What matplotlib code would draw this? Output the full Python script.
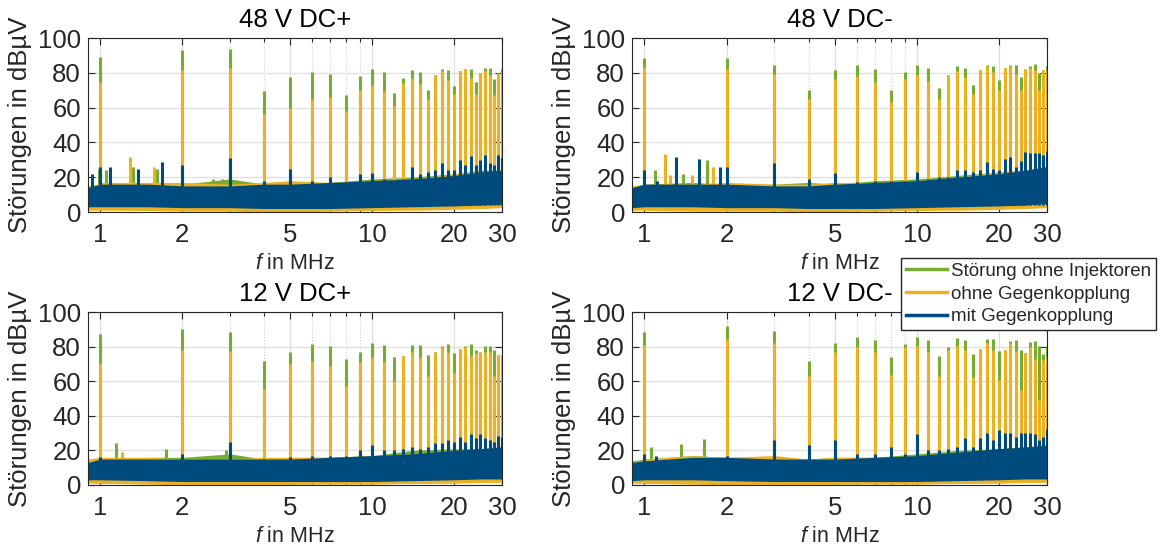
import matplotlib
matplotlib.use("Agg")
import matplotlib.pyplot as plt
from matplotlib.lines import Line2D
from matplotlib.ticker import FixedLocator, NullFormatter

plt.rcParams['font.family'] = ['Liberation Sans', 'DejaVu Sans']
plt.rcParams['mathtext.fontset'] = 'custom'
plt.rcParams['mathtext.it'] = 'Liberation Sans:italic'
plt.rcParams['mathtext.rm'] = 'Liberation Sans'
plt.rcParams['text.color'] = '#262626'

# Oberschwingungen der Schaltfrequenz (MHz)
harmonische = [1, 2, 3, 4, 5, 6, 7, 8, 9, 10, 11, 12, 13, 14, 15,
               16, 17, 18, 19, 20, 21, 22, 23, 24, 25, 26, 27, 28, 29, 30]

titel = ["48 V DC+", "48 V DC-", "12 V DC+", "12 V DC-"]
legende = ["Störung ohne Injektoren", "ohne Gegenkopplung", "mit Gegenkopplung"]
farben = ["#77AC30", "#EDB120", "#004B7D"]

# Spitzenwerte in dBµV an den Oberschwingungen
p48p_gruen = [89, 93, 93.7, 69.4, 77.8, 80.7, 79.5, 67.5, 78.4, 82, 80.5, 68.4, 77.2, 81.8, 80.5,
              70, 78.6, 82, 81.5, 72.7, 81, 82.4, 82.4, 74.8, 80, 82.8, 83, 76.7, 80, 82.4]
p48p_gelb = [74.8, 81.5, 82.8, 56.4, 59.8, 65, 66, 58, 70.4, 72.8, 69.6, 60.8, 74.2, 77, 73.8,
             65, 78.6, 81, 75.7, 67.7, 81, 82, 77.2, 67.7, 80, 81, 78.6, 67, 80, 80.5]
p48p_blau = [25.6, 26.8, 31, 18, 25, 18, 20, 17, 21.6, 22.4, 19, 18, 19, 25.6, 22,
             23, 24, 28, 24, 24, 29.8, 27, 32, 27, 29.8, 32.7, 28, 27, 33, 30.8]

p48m_gruen = [88.7, 88.7, 84.7, 70.4, 81.5, 84.7, 82.4, 70, 80.3, 84.3, 82.6, 71, 78.6, 83.7, 82.6,
              73.2, 81.8, 84.3, 83.7, 75.7, 83, 84.3, 84.3, 77.6, 82, 83.7, 85.3, 80, 81.5, 83.7]
p48m_gelb = [83.4, 82.4, 79.5, 65.2, 76.7, 78.2, 74.8, 63.3, 76.7, 78.6, 75.1, 64.8, 78.6, 81, 77.6,
             68, 81.8, 84, 80.5, 70, 83, 84, 79.5, 70, 82, 82.8, 81.8, 70, 81.5, 81.5]
p48m_blau = [24, 26, 28.3, 19, 22.2, 17, 18, 18, 18, 22.8, 19, 20, 20, 24, 24,
             23, 24, 28.5, 25, 24, 30.2, 31.7, 26, 29.4, 34.2, 33.7, 33.7, 34, 33, 35.2]

p12p_gruen = [87.5, 90.4, 88.5, 71.8, 77, 81.4, 80.6, 72.6, 76.8, 81.8, 81.2, 73.7, 74.5, 81.2, 81.2,
              74.9, 77, 80.6, 81.4, 76.4, 78.9, 80.2, 81.4, 78, 77, 80.6, 80.6, 78, 75, 75.4]
p12p_gelb = [70.6, 78.3, 77.5, 55.3, 69.7, 71.6, 68.7, 57.2, 71, 73.7, 71.2, 60, 74.5, 77, 73.7,
             63, 77, 79.5, 77, 65, 78.9, 79.5, 74.5, 76.4, 77, 77, 77, 63, 75, 75.4]
p12p_blau = [16, 18, 24.8, 15, 16, 17, 17, 17, 20, 23, 20, 20, 21, 22, 21,
             22, 24, 24, 26, 25, 28, 25, 29.4, 27, 29.4, 27, 26, 25, 28.6, 28]

p12m_gruen = [88.3, 91.7, 89.3, 71.8, 81.8, 85.6, 84.1, 73.7, 81.4, 85.6, 84.1, 74.5, 79.8, 85, 84.1,
              75.6, 78.9, 84.3, 84.3, 77.4, 77.9, 83.3, 84.1, 77.9, 76.4, 82.5, 83.3, 80.6, 76, 80.2]
p12m_gelb = [80.8, 84.3, 81.8, 63, 76.6, 79.5, 76.6, 63.5, 79.5, 80.2, 77, 63, 78.3, 80.2, 77.9,
             62.6, 78.9, 82.1, 77.9, 60.7, 77.9, 81.8, 77.4, 54.9, 76.4, 79.5, 73.1, 49.1, 72.2, 73.7]
p12m_blau = [18, 17, 26.3, 23.2, 26.1, 18, 18, 21.9, 18, 29.4, 20, 20, 21, 22, 26.9,
             22, 27.1, 29.9, 26, 31.9, 30, 30, 28, 30, 30, 30, 29.4, 26, 28, 32.4]

# einzelne Nebenspitzen (Frequenz in MHz, Pegel in dBµV)
s48p_gruen_f, s48p_gruen = [0.985, 1.05, 1.32, 1.62, 2.6, 2.8], [25, 24, 26, 25, 19, 19]
s48p_gelb_f, s48p_gelb = [1.285, 1.58], [31.7, 26]
s48p_blau_f, s48p_blau = [0.93, 1.085, 1.38, 1.69], [22, 26, 24.5, 28.9]

s48m_gruen_f, s48m_gruen = [1.09, 1.39, 1.69], [24, 22, 29.8]
s48m_gelb_f, s48m_gelb = [1.19, 1.24, 1.49, 1.78], [33.6, 21, 21, 25.7]
s48m_blau_f, s48m_blau = [0.93, 1.11, 1.30, 1.59, 1.89], [14, 18, 31.4, 30.4, 26]

s12p_gruen_f, s12p_gruen = [1.14, 1.74, 2.89], [24, 20.7, 20]
s12p_gelb_f, s12p_gelb = [1.2], [19]
s12p_blau_f, s12p_blau = [], []

s12m_gruen_f, s12m_gruen = [1.06, 1.36, 1.66], [21.9, 23.6, 26.5]
s12m_gelb_f, s12m_gelb = [], []
s12m_blau_f, s12m_blau = [1.1], [17]

# Rauschband (untere / obere Hüllkurve) an Stützfrequenzen
f_rausch = [0.9, 1, 1.5, 2, 3, 4, 5, 7, 10, 14, 20, 25, 30]

r48p_gruen_o = [15, 16, 17, 16, 19, 16, 16, 17, 19, 20, 22, 24, 24]
r48p_gruen_u = [1.5, 1.5, 1, 1, 1, 0.5, 0.5, 1, 1, 1.5, 2, 2, 3]
r48p_gelb_o = [14, 17, 17, 17, 16, 17, 18, 17, 18, 19, 22, 23, 24]
r48p_gelb_u = [1, 1, 1, 0.5, 0.5, 0, 0, 0.5, 1, 1, 1.5, 2, 2.5]
r48p_blau_o = [14, 16, 16, 15, 15, 16, 16, 17, 18, 19, 21, 23, 24]
r48p_blau_u = [3, 3, 3, 2.5, 2.5, 2, 2, 2, 2.5, 3, 3.5, 4, 4.5]

r48m_gruen_o = [14, 16, 17, 16, 16, 17, 16, 18, 19, 21, 23, 24, 26]
r48m_gruen_u = [1.5, 1.5, 1, 1, 1, 0.5, 0.5, 1, 1, 1.5, 2, 2.5, 3]
r48m_gelb_o = [15, 16, 16, 17, 16, 16, 17, 17, 18, 20, 23, 24, 25]
r48m_gelb_u = [1, 1, 0.5, 0.5, 0.5, 0, 0.5, 0.5, 1, 1, 1.5, 2, 2.5]
r48m_blau_o = [14, 16, 16, 16, 15, 15, 16, 17, 18, 20, 22, 24, 26]
r48m_blau_u = [2.5, 3, 3, 2.5, 2.5, 2, 2, 2, 2.5, 3, 3.5, 4, 5]

r12p_gruen_o = [14, 15, 16, 16, 18, 15, 16, 16, 17, 20, 21, 21, 22]
r12p_gruen_u = [1.5, 1, 1, 0.5, 0.5, 0.5, 0.5, 1, 1, 1, 1.5, 2, 2]
r12p_gelb_o = [15, 16, 16, 15, 15, 16, 16, 16, 17, 18, 20, 21, 22]
r12p_gelb_u = [1, 1, 0.5, 0, 0, 0, 0.5, 0.5, 0.5, 1, 1, 1.5, 1.5]
r12p_blau_o = [13, 15, 15, 15, 15, 15, 15, 16, 17, 18, 20, 21, 22]
r12p_blau_u = [3, 3, 2.5, 2, 2, 2, 2, 2, 2, 2.5, 3, 3.5, 3.5]

r12m_gruen_o = [14, 15, 17, 16, 16, 15, 16, 16, 18, 20, 21, 22, 23]
r12m_gruen_u = [1.5, 1, 1, 0.5, 0.5, 0.5, 0.5, 1, 1, 1, 1.5, 2, 2]
r12m_gelb_o = [13, 15, 17, 16, 17, 15, 16, 16, 17, 19, 21, 22, 23]
r12m_gelb_u = [1, 1, 0.5, 0, 0, 0, 0.5, 0.5, 0.5, 1, 1, 1.5, 1.5]
r12m_blau_o = [13, 14, 16, 16, 15, 15, 15, 16, 17, 19, 21, 22, 23]
r12m_blau_u = [2.5, 3, 3, 2.5, 2, 2, 2, 2, 2, 2.5, 3, 3.5, 3.5]

# Zusammenstellung je Teilbild: (Spitzen, Nebenspitzen f, Nebenspitzen, Rauschen oben, Rauschen unten)
panels = [
    [(p48p_gruen, s48p_gruen_f, s48p_gruen, r48p_gruen_o, r48p_gruen_u),
     (p48p_gelb, s48p_gelb_f, s48p_gelb, r48p_gelb_o, r48p_gelb_u),
     (p48p_blau, s48p_blau_f, s48p_blau, r48p_blau_o, r48p_blau_u)],
    [(p48m_gruen, s48m_gruen_f, s48m_gruen, r48m_gruen_o, r48m_gruen_u),
     (p48m_gelb, s48m_gelb_f, s48m_gelb, r48m_gelb_o, r48m_gelb_u),
     (p48m_blau, s48m_blau_f, s48m_blau, r48m_blau_o, r48m_blau_u)],
    [(p12p_gruen, s12p_gruen_f, s12p_gruen, r12p_gruen_o, r12p_gruen_u),
     (p12p_gelb, s12p_gelb_f, s12p_gelb, r12p_gelb_o, r12p_gelb_u),
     (p12p_blau, s12p_blau_f, s12p_blau, r12p_blau_o, r12p_blau_u)],
    [(p12m_gruen, s12m_gruen_f, s12m_gruen, r12m_gruen_o, r12m_gruen_u),
     (p12m_gelb, s12m_gelb_f, s12m_gelb, r12m_gelb_o, r12m_gelb_u),
     (p12m_blau, s12m_blau_f, s12m_blau, r12m_blau_o, r12m_blau_u)],
]

W, H = 1160, 546
fig = plt.figure(figsize=(W / 100, H / 100), dpi=100)

# Achsenrahmen in Pixeln: links, oben, rechts, unten
rahmen = [(88, 38, 502, 212), (632, 38, 1047, 212),
          (88, 312, 502, 485), (632, 312, 1047, 485)]

dunkel = '#262626'

for i, (l, o, r, u) in enumerate(rahmen):
    ax = fig.add_axes([l / W, 1 - u / H, (r - l) / W, (u - o) / H])
    ax.set_xscale('log')
    for farbe, (spitzen, sf, sh, ro, ru) in zip(farben, panels[i]):
        ax.fill_between(f_rausch, ru, ro, color=farbe, lw=0, zorder=2)
        ax.vlines(harmonische, 4, spitzen, color=farbe, lw=2.2, zorder=2)
        if sf:
            ax.vlines(sf, 4, sh, color=farbe, lw=2.2, zorder=2)

    ax.set_xlim(0.9, 30)
    ax.set_ylim(0, 100)
    ax.xaxis.set_major_locator(FixedLocator([1, 2, 5, 10, 20, 30]))
    ax.set_xticklabels(['1', '2', '5', '10', '20', '30'])
    ax.xaxis.set_minor_locator(FixedLocator([3, 4, 6, 7, 8, 9]))
    ax.xaxis.set_minor_formatter(NullFormatter())
    ax.set_yticks([0, 20, 40, 60, 80, 100])

    ax.set_axisbelow(True)
    ax.grid(True, which='major', color='#dfdfdf', lw=0.9)
    ax.grid(True, which='minor', axis='x', color='#d0d0d0', ls=':', lw=0.8)

    ax.tick_params(which='both', direction='in', top=True, right=True,
                   color=dunkel, labelcolor=dunkel, width=0.8)
    ax.tick_params(which='major', length=5, labelsize=18.5)
    ax.tick_params(which='minor', length=3)
    ax.tick_params(axis='x', pad=8)
    ax.tick_params(axis='y', pad=5)
    for sp in ax.spines.values():
        sp.set_color(dunkel)
        sp.set_linewidth(0.8)

    ax.set_title(titel[i], fontsize=18.5, pad=8, color='black')
    ax.set_ylabel('Störungen in dBµV', fontsize=18.5, labelpad=4, color=dunkel)
    ax.set_xlabel(r'$f$ in MHz', fontsize=15.5, labelpad=4, color=dunkel)

griffe = [Line2D([], [], color=c, lw=2.5) for c in farben]
fig.legend(griffe, legende, loc='upper left', bbox_to_anchor=(901 / W, 1 - 258 / H),
           fontsize=13.5, frameon=True, fancybox=False, framealpha=1,
           edgecolor=dunkel, handlelength=2.2, handletextpad=0.2,
           borderpad=0.25, labelspacing=0.3, borderaxespad=0)

fig.savefig('out.png', dpi=100)
